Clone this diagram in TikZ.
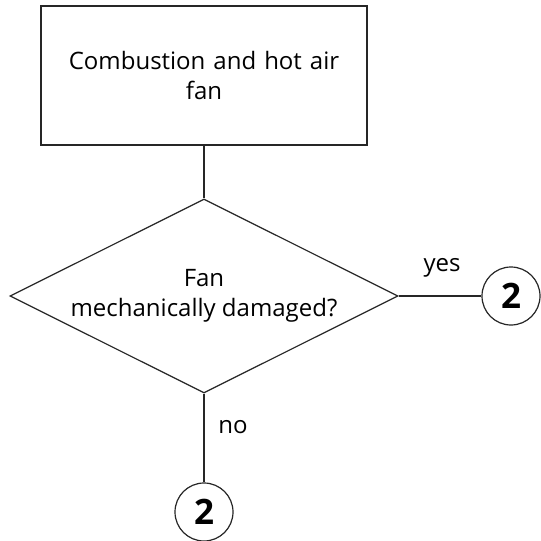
\documentclass[tikz,border=0pt]{standalone}
\usepackage{fontspec}
\setmainfont{Open Sans}
\usetikzlibrary{positioning,shapes}
\tikzset{
    borderthick/.style={draw=black!85,line width=1.2pt},
    recwht/.style={draw,minimum width=326pt,minimum height=139pt,align=center,text width=300pt,text=black,fill=white,borderthick,font=\fontsize{24}{30}\selectfont},
    diawht/.style={diamond,draw,minimum width=388pt,minimum height=194pt,inner sep=0pt,aspect=2,align=center,text=black,fill=white,borderthick,font=\fontsize{24}{30}\selectfont},
    cirwht/.style={circle,draw,minimum size=58pt,inner sep=0pt,text=black,fill=white,borderthick,font=\fontsize{35}{35}\selectfont\bfseries},
    title/.style={draw=none,text=black,inner sep=0pt,font=\fontsize{24}{28}\selectfont}
}

\begin{document}
\begin{tikzpicture}[x=1pt,y=-1pt]
        \useasboundingbox (0,0) rectangle (541,541);
        % Fan check
        \node[recwht] (fanbox) at (204,75.5) {Combustion and hot air\\fan};
        \node[diawht] (damaged) at (204,296) {Fan\\mechanically damaged?};

        % Connectors 2
        \node[cirwht] (yescirc) at (511,296) {2};
        \node[cirwht] (nocirc) at (204,512) {2};
        \node[title] (yeslbl) at (442,268) {yes};
        \node[title] (nolbl) at (233,427) {no};

        \draw[borderthick] (fanbox) -- (damaged);
        \draw[borderthick] (damaged.east) -- (yescirc);
        \draw[borderthick] (damaged.south) -- (nocirc);
    \end{tikzpicture}
\end{document}
